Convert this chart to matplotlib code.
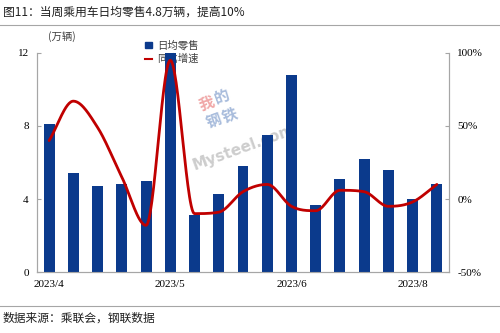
import numpy as np
import matplotlib.pyplot as plt
from matplotlib.lines import Line2D
from matplotlib.patches import Patch

plt.rcParams['font.family'] = ['Liberation Serif', 'Noto Sans CJK SC']

# weekly data, 2023/4 - 2023/8
weeks = list(range(17))
daily_sales = [8.1, 5.4, 4.7, 4.8, 5.0, 12.0, 3.1, 4.3, 5.8, 7.5, 10.8, 3.7, 5.1, 6.2, 5.6, 4.0, 4.8]  # 万辆
yoy_growth = [40, 67, 49, 15, -18, 95, -10, -9, 5, 10, -5, -8, 6, 5, -5, -2, 10]  # %
tick_pos = [0, 5, 10, 15]
tick_labels = ['2023/4', '2023/5', '2023/6', '2023/8']

BLUE = '#0b3a8c'
RED = '#c00000'
GREY = '#a6a6a6'
CJK = ['Noto Sans CJK SC', 'DejaVu Sans']


def smooth_line(x, y, n=30):
    """cubic hermite through the points, slopes clamped so the curve
    doesn't overshoot at turning points"""
    x = np.asarray(x, float)
    y = np.asarray(y, float)
    h = np.diff(x)
    delta = np.diff(y) / h
    m = np.zeros_like(y)
    m[0], m[-1] = delta[0], delta[-1]
    for i in range(1, len(y) - 1):
        a, b = delta[i - 1], delta[i]
        if a * b <= 0:
            m[i] = 0
        else:
            m[i] = np.sign(a) * min(abs(a + b) / 2, 3 * min(abs(a), abs(b)))
    xs, ys = [x[:1]], [y[:1]]
    t = np.linspace(0, 1, n)[1:]
    for i in range(len(h)):
        h00 = 2 * t ** 3 - 3 * t ** 2 + 1
        h10 = t ** 3 - 2 * t ** 2 + t
        h01 = -2 * t ** 3 + 3 * t ** 2
        h11 = t ** 3 - t ** 2
        xs.append(x[i] + t * h[i])
        ys.append(h00 * y[i] + h10 * h[i] * m[i] + h01 * y[i + 1] + h11 * h[i] * m[i + 1])
    return np.concatenate(xs), np.concatenate(ys)


fig = plt.figure(figsize=(5, 3.33), dpi=100)
ax = fig.add_axes([0.074, 0.183, 0.824, 0.658])
ax2 = ax.twinx()

ax.bar(weeks, daily_sales, width=0.45, color=BLUE, zorder=3)
ax.set_xlim(-0.5, 16.5)
ax.set_ylim(0, 12)
ax.set_yticks([0, 4, 8, 12])
ax.set_xticks(tick_pos)
ax.set_xticklabels(tick_labels)
ax.tick_params(axis='x', length=0, labelsize=8, pad=6)
ax.tick_params(axis='y', direction='in', length=3, color=GREY, labelsize=8, pad=6)

lx, ly = smooth_line(weeks, yoy_growth)
ax2.plot(lx, ly, color=RED, lw=2, solid_capstyle='round')
ax2.set_ylim(-50, 100)
ax2.set_yticks([-50, 0, 50, 100])
ax2.set_yticklabels(['-50%', '0%', '50%', '100%'])
ax2.tick_params(axis='y', direction='in', length=3, color=GREY, labelsize=8, pad=6)

for a in (ax, ax2):
    a.spines['top'].set_visible(False)
    for s in ('left', 'right', 'bottom'):
        a.spines[s].set_color(GREY)
        a.spines[s].set_linewidth(0.8)

# legend sits behind the bars
handles = [Patch(color=BLUE), Line2D([], [], color=RED, lw=1.5)]
leg = ax.legend(handles, ['日均零售', '同比增速'], loc='upper left',
                bbox_to_anchor=(0.24, 1.1), frameon=False, handlelength=0.6,
                handleheight=0.6, handletextpad=0.5, labelspacing=0.3,
                prop={'family': CJK, 'size': 7.5})
for t in leg.get_texts():
    t.set_color('#404040')
leg.set_zorder(1)

fig.text(0.096, 0.88, '(万辆)', family=CJK, fontsize=7.5, color='#404040')

# watermark, under the bars
ax.text(8.05, 6.8, 'Mysteel.com', fontsize=11, color='#b8b8b8', alpha=0.7,
        rotation=20, fontweight='bold', family='DejaVu Sans',
        ha='center', va='center', zorder=1)
for ch, (dx, dy), col in [('我', (6.5, 9.2), '#f0a8a8'), ('的', (7.15, 9.6), '#a8bcdc'),
                          ('钢', (6.8, 8.3), '#a8bcdc'), ('铁', (7.45, 8.6), '#a8bcdc')]:
    ax.text(dx, dy, ch, fontsize=11, color=col, rotation=20, family=CJK,
            fontweight='bold', ha='center', va='center', zorder=1)

# header and footer
fig.text(0.006, 0.963, '图11：当周乘用车日均零售4.8万辆，提高10%', family=CJK,
         fontsize=8.5, color='#202020', va='center')
fig.add_artist(Line2D([0, 1], [0.925, 0.925], color=GREY, lw=0.8))
fig.add_artist(Line2D([0, 1], [0.08, 0.08], color=GREY, lw=0.8))
fig.text(0.006, 0.045, '数据来源：乘联会，钢联数据', family=CJK, fontsize=8.5,
         color='#202020', va='center')

fig.savefig('out.png', dpi=100)
